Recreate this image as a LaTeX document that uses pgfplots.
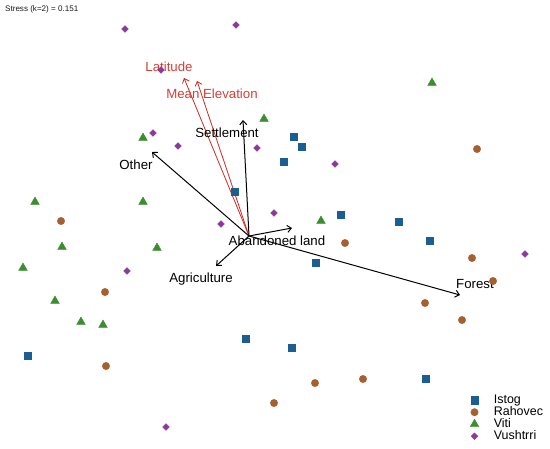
\documentclass[border=0pt]{standalone}
\usepackage{fontspec}
\setmainfont{Liberation Sans}
\usepackage{pgfplots}
\pgfplotsset{compat=1.18}
\usetikzlibrary{arrows.meta}

\definecolor{istog}{HTML}{1B5E91}
\definecolor{rahovec}{HTML}{A65F2D}
\definecolor{viti}{HTML}{3A8E2F}
\definecolor{vushtrri}{HTML}{8B3A9C}
\definecolor{envred}{HTML}{CC2B22}

\tikzset{lbl/.style={font=\fontsize{13.3}{14}\selectfont, inner sep=0pt}}

\begin{document}
\begin{tikzpicture}
\begin{axis}[
    scale only axis,
    width=550bp, height=448bp,
    xmin=0, xmax=550, ymin=0, ymax=448,
    y dir=reverse,
    hide axis,
    clip=false,
    legend cell align=left,
    legend style={
        at={(axis cs:467,392)}, anchor=north west,
        draw=none, fill=none,
        font=\fontsize{12.5}{12}\selectfont,
        nodes={inner sep=0pt, text height=9.2bp, text depth=2.8bp},
        row sep=0pt,
        /tikz/every odd column/.append style={column sep=15bp},
    },
]
% keep the whole plotting area in the page
\path (rel axis cs:0,0) rectangle (rel axis cs:1,1);

% vectors (NMDS envfit), from the origin
\addplot[forget plot, envred, line width=0.8bp, -{Straight Barb[length=4bp,width=7bp]}] coordinates {(249,236) (184,78)};
\addplot[forget plot, envred, line width=0.8bp, -{Straight Barb[length=4bp,width=7bp]}] coordinates {(249,236) (197,81)};
\addplot[forget plot, black, line width=1bp, -{Straight Barb[length=4bp,width=7bp]}] coordinates {(249,236) (243,120)};
\addplot[forget plot, black, line width=1bp, -{Straight Barb[length=4bp,width=7bp]}] coordinates {(249,236) (152,152)};
\addplot[forget plot, black, line width=1bp, -{Straight Barb[length=4bp,width=7bp]}] coordinates {(249,236) (292,228)};
\addplot[forget plot, black, line width=1bp, -{Straight Barb[length=4bp,width=7bp]}] coordinates {(249,236) (216,266)};
\addplot[forget plot, black, line width=1bp, -{Straight Barb[length=4bp,width=7bp]}] coordinates {(249,236) (460,295)};

\node[lbl, text=envred!90!white] at (axis cs:169,67) {Latitude};
\node[lbl, text=envred!90!white] at (axis cs:212,94) {Mean Elevation};
\node[lbl] at (axis cs:227,133) {Settlement};
\node[lbl] at (axis cs:136,165) {Other};
\node[lbl] at (axis cs:277,241) {Abandoned land};
\node[lbl] at (axis cs:201,279) {Agriculture};
\node[lbl] at (axis cs:475,284) {Forest};

\node[anchor=west, inner sep=0pt, text=black!90, font=\fontsize{8.1}{9}\selectfont] at (axis cs:5,9) {Stress (k=2) = 0.151};

\addplot[only marks, mark=square*, mark size=3.6bp, istog] coordinates {
    (294,137) (302,147) (284,162) (235,192) (341,215) (399,222)
    (430,241) (316,263) (292,348) (426,379) (246,339) (28,356)
};
\addlegendentry{Istog}
\addplot[only marks, mark=*, mark size=3.7bp, rahovec] coordinates {
    (477,149) (345,243) (472,258) (493,281) (425,303) (462,320)
    (315,383) (363,379) (274,403) (61,221) (105,292) (106,366)
};
\addlegendentry{Rahovec}
\addplot[only marks, mark=triangle*, mark size=5bp, viti] coordinates {
    (432,83) (264,119) (143,138) (35,202) (143,202) (321,221)
    (62,247) (157,248) (23,268) (55,301) (81,322) (103,325)
};
\addlegendentry{Viti}
\addplot[only marks, mark=square*, mark options={rotate=45}, mark size=2.4bp, vushtrri] coordinates {
    (125,29) (236,25) (161,70) (153,133) (178,146) (257,148)
    (335,164) (274,213) (221,224) (127,271) (525,254) (166,427)
};
\addlegendentry{Vushtrri}
\end{axis}
\end{tikzpicture}
\end{document}
